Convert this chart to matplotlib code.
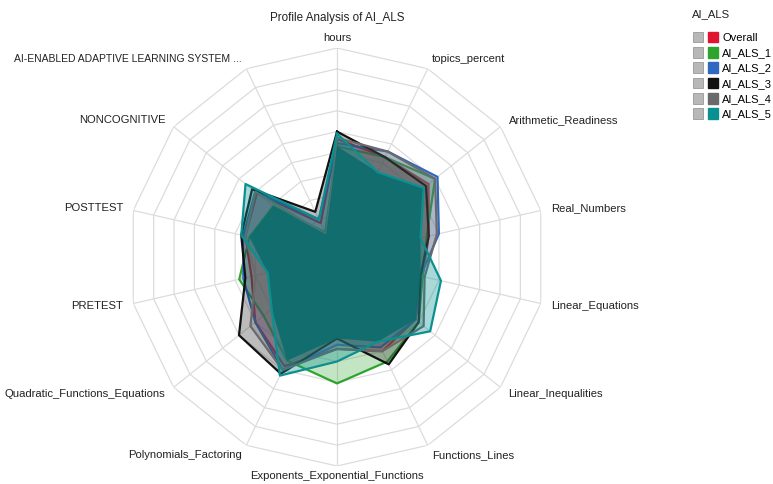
import numpy as np
import matplotlib
matplotlib.use("Agg")
import matplotlib.pyplot as plt
from matplotlib.patches import Patch
from matplotlib.legend_handler import HandlerTuple

plt.rcParams['font.family'] = ['Liberation Sans', 'DejaVu Sans']

categories = ["hours", "topics_percent", "Arithmetic_Readiness", "Real_Numbers",
              "Linear_Equations", "Linear_Inequalities", "Functions_Lines",
              "Exponents_Exponential_Functions", "Polynomials_Factoring",
              "Quadratic_Functions_Equations", "PRETEST", "POSTTEST",
              "NONCOGNITIVE", "AI-ENABLED ADAPTIVE LEARNING SYSTEM ..."]

series_names = ["Overall", "AI_ALS_1", "AI_ALS_2", "AI_ALS_3", "AI_ALS_4", "AI_ALS_5"]
overall = [0.565, 0.53, 0.56, 0.45, 0.42, 0.48, 0.50, 0.44, 0.58, 0.50, 0.42, 0.45, 0.49, 0.18]
als_1 = [0.53, 0.53, 0.60, 0.44, 0.42, 0.50, 0.555, 0.605, 0.55, 0.45, 0.48, 0.43, 0.39, 0.13]
als_2 = [0.545, 0.56, 0.615, 0.50, 0.41, 0.48, 0.48, 0.42, 0.60, 0.50, 0.46, 0.46, 0.50, 0.20]
als_3 = [0.60, 0.53, 0.545, 0.45, 0.41, 0.50, 0.57, 0.39, 0.62, 0.60, 0.45, 0.47, 0.52, 0.24]
als_4 = [0.57, 0.56, 0.60, 0.49, 0.43, 0.53, 0.50, 0.44, 0.60, 0.53, 0.40, 0.45, 0.50, 0.12]
als_5 = [0.59, 0.45, 0.53, 0.41, 0.51, 0.57, 0.45, 0.50, 0.63, 0.40, 0.34, 0.47, 0.56, 0.20]
series_values = [overall, als_1, als_2, als_3, als_4, als_5]
colors = ["#e0142f", "#2ea32e", "#2f68be", "#111111", "#6a6a6a", "#0a9090"]

fig = plt.figure(figsize=(7.73, 4.84), dpi=100)
ax = fig.add_axes([0.1656, 0.0372, 0.5408, 0.8636], polar=True)
ax.set_theta_offset(np.pi / 2)
ax.set_theta_direction(-1)
ax.set_ylim(0, 1)
ax.grid(False)
ax.set_xticks([])
ax.set_yticks([])
ax.spines['polar'].set_visible(False)

n = len(categories)
theta = np.linspace(0, 2 * np.pi, n, endpoint=False)
theta_c = np.append(theta, theta[0])

# polygon grid
for r in np.arange(1, 11) / 10:
    ax.plot(theta_c, [r] * (n + 1), color="#dcdcdc", lw=0.9, zorder=0)
for t in theta:
    ax.plot([t, t], [0, 1], color="#dcdcdc", lw=0.9, zorder=0)

# series: fill + outline, in order (last series on top)
z = 1
for i, (vals, col) in enumerate(zip(series_values, colors)):
    v = np.append(vals, vals[0])
    last = i == len(series_values) - 1
    ax.fill(theta_c, v, color=col, alpha=0.35 if last else 0.28, lw=0, zorder=z)
    if last:
        # region shared by all profiles shows the dense overlap colour
        core = np.min(np.array(series_values), axis=0)
        core_c = np.append(core, core[0])
        ax.fill(theta_c, core_c, color="#086c6c", alpha=0.85, lw=0, zorder=z + 0.5)
    ax.plot(theta_c, v, color=col, lw=1.6, zorder=z + 0.8)
    z += 1

# axis labels
for t, lab in zip(theta, categories):
    s = np.sin(t)
    if abs(s) < 1e-6:
        ha = 'center'
    elif s > 0:
        ha = 'left'
    else:
        ha = 'right'
    fs = 7.5 if len(lab) > 32 else 8.1
    ax.text(t, 1.05, lab, ha=ha, va='center', fontsize=fs, color="#222222",
            clip_on=False)

fig.text(0.436, 1 - 18 / 484, "Profile Analysis of AI_ALS", ha='center', va='center',
         fontsize=8.4, color="#222222")

fig.text(692 / 773, 1 - 14 / 484, "AI_ALS", ha='left', va='center',
         fontsize=8.1, color="#222222")
handles = [(Patch(facecolor="#b8b8b8", edgecolor="#999999", lw=0.6),
            Patch(facecolor=c, edgecolor=c)) for c in colors]
leg = fig.legend(handles, series_names, loc='upper left',
                 bbox_to_anchor=(0.884, 0.955), frameon=False, fontsize=8,
                 handler_map={tuple: HandlerTuple(ndivide=None, pad=0.45)},
                 handlelength=2.2, handleheight=1.1, handletextpad=0.4,
                 labelspacing=0.38)

fig.savefig("out.png", dpi=100)
